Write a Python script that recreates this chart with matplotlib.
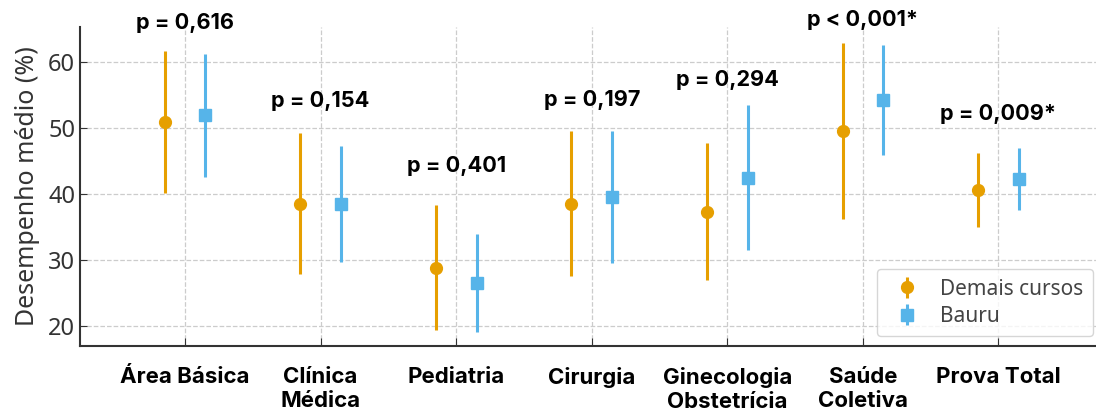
import matplotlib
matplotlib.use('Agg')
import matplotlib.pyplot as plt
import numpy as np

plt.rcParams['font.family'] = ['Noto Sans', 'DejaVu Sans']
bold_family = ['Inter', 'Roboto', 'DejaVu Sans']

categories = ['Área Básica', 'Clínica\nMédica', 'Pediatria', 'Cirurgia',
              'Ginecologia\nObstetrícia', 'Saúde\nColetiva', 'Prova Total']
demais_mean = [51.0, 38.6, 28.9, 38.6, 37.4, 49.6, 40.7]
demais_sd = [10.8, 10.7, 9.5, 11.0, 10.4, 13.4, 5.6]
bauru_mean = [52.0, 38.5, 26.6, 39.6, 42.5, 54.3, 42.3]
bauru_sd = [9.3, 8.8, 7.4, 10.0, 11.0, 8.3, 4.7]
p_labels = ['p = 0,616', 'p = 0,154', 'p = 0,401', 'p = 0,197',
            'p = 0,294', 'p < 0,001*', 'p = 0,009*']
p_y = [66.0, 54.1, 44.3, 54.3, 57.4, 66.5, 52.2]

orange = '#E69F00'
blue = '#56B4E9'

fig = plt.figure(figsize=(10.96, 4.19), dpi=100)
ax = fig.add_axes([0.073, 0.174, 0.927, 0.762])

x = np.arange(len(categories))
off = 0.15
ax.errorbar(x - off, demais_mean, yerr=demais_sd, fmt='o', color=orange,
            ms=8.5, elinewidth=2.2, capsize=0, label='Demais cursos', zorder=3)
ax.errorbar(x + off, bauru_mean, yerr=bauru_sd, fmt='s', color=blue,
            ms=8.5, elinewidth=2.2, capsize=0, label='Bauru', zorder=3)

for xi, lab, yy in zip(x, p_labels, p_y):
    ax.text(xi, yy, lab, ha='center', va='center', fontsize=15.6,
            fontweight='bold', family=bold_family, clip_on=False)

ax.set_xticks(x)
ax.set_xticklabels(categories, fontsize=16, fontweight='bold',
                   family=bold_family, va='top', linespacing=1.25)
ax.set_yticks([20, 30, 40, 50, 60])
ax.tick_params(axis='y', labelsize=17, direction='in', colors='#333333',
               labelcolor='#333333', length=5)
ax.tick_params(axis='x', direction='in', length=6, pad=15, colors='#333333',
               labelcolor='black')
ax.set_xlim(-0.775, 6.72)
ax.set_ylim(17, 65.4)
ax.set_ylabel('Desempenho médio (%)', fontsize=18, color='#333333', labelpad=6)

ax.grid(True, linestyle='--', color='#cccccc', linewidth=0.9)
ax.set_axisbelow(True)
for s in ['top', 'right']:
    ax.spines[s].set_visible(False)
for s in ['left', 'bottom']:
    ax.spines[s].set_color('#333333')
    ax.spines[s].set_linewidth(1.5)

leg = ax.legend(loc='lower right', fontsize=15, frameon=True, borderpad=0.45,
                handletextpad=0.6, labelspacing=0.3, borderaxespad=0,
                bbox_to_anchor=(0.997, 0.031))
leg.get_frame().set_edgecolor('#cccccc')
for t in leg.get_texts():
    t.set_color('#444444')

fig.savefig('out.png', dpi=100)
